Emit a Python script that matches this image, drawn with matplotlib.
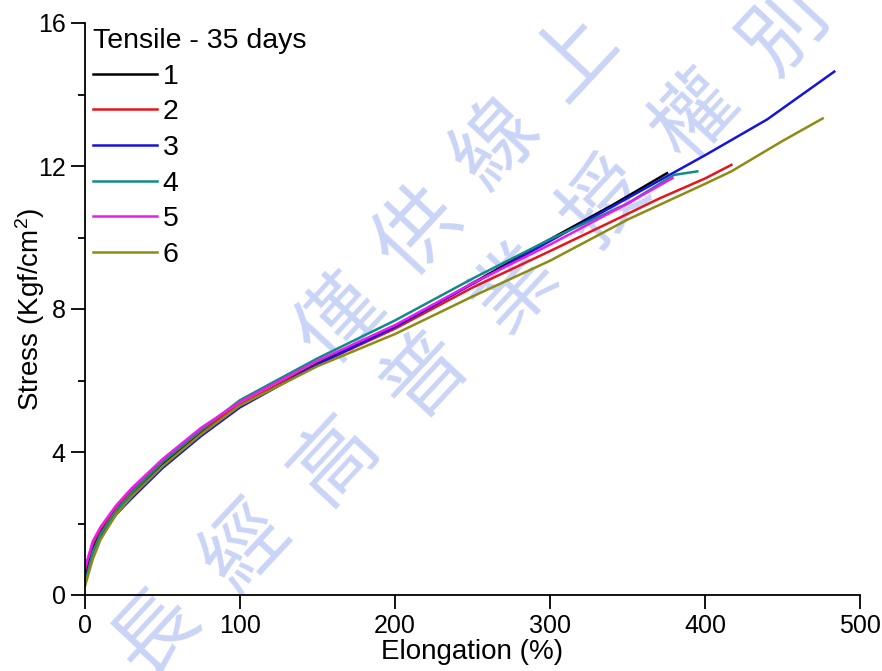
import matplotlib
matplotlib.use("Agg")
import matplotlib.pyplot as plt

# ---- data ----
x1 = [0, 5, 10, 20, 30, 50, 75, 100, 150, 200, 250, 300, 340, 375.5]
y1 = [0.45, 1.3, 1.75, 2.35, 2.82, 3.65, 4.55, 5.3, 6.48, 7.5, 8.72, 9.95, 10.9, 11.8]

x2 = [0, 5, 10, 20, 30, 50, 75, 100, 150, 200, 250, 300, 340, 371, 400, 417]
y2 = [0.7, 1.45, 1.85, 2.42, 2.9, 3.72, 4.6, 5.33, 6.45, 7.45, 8.6, 9.62, 10.45, 11.1, 11.65, 12.03]

x3 = [0, 5, 10, 20, 30, 50, 75, 100, 150, 200, 250, 300, 350, 400, 440, 483.4]
y3 = [0.4, 1.2, 1.65, 2.25, 2.7, 3.55, 4.45, 5.25, 6.45, 7.5, 8.7, 9.9, 11.1, 12.3, 13.3, 14.64]

x4 = [0, 5, 10, 20, 30, 50, 75, 100, 150, 200, 250, 300, 350, 380, 395]
y4 = [0.3, 1.2, 1.7, 2.35, 2.85, 3.72, 4.62, 5.45, 6.62, 7.68, 8.85, 9.95, 10.95, 11.75, 11.85]

x5 = [0, 5, 10, 20, 30, 50, 75, 100, 150, 200, 250, 300, 350, 379]
y5 = [0.75, 1.5, 1.9, 2.5, 2.98, 3.8, 4.68, 5.4, 6.55, 7.55, 8.72, 9.8, 10.95, 11.66]

x6 = [0, 5, 10, 20, 30, 50, 75, 100, 150, 200, 250, 300, 350, 400, 417, 450, 475.9]
y6 = [0.25, 1.0, 1.55, 2.25, 2.75, 3.6, 4.5, 5.3, 6.4, 7.3, 8.35, 9.35, 10.5, 11.5, 11.85, 12.7, 13.33]

labels = ["1", "2", "3", "4", "5", "6"]
colors = ["#000000", "#e8141b", "#1414e0", "#118a8a", "#ee1aee", "#8c8c14"]
xticks = [0, 100, 200, 300, 400, 500]
yticks = [0, 4, 8, 12, 16]

wm_upper = ["僅", "供", "線", "上"]
wm_lower = ["長", "經", "高", "普", "業", "授", "權", "別"]

plt.rcParams["font.family"] = ["Liberation Sans", "DejaVu Sans"]
plt.rcParams["mathtext.default"] = "regular"

W, H = 882, 671
fig = plt.figure(figsize=(W / 100, H / 100), dpi=100)

# watermark (behind the axes)
def wm(chars, x0, y0, dx, dy):
    for i, c in enumerate(chars):
        fig.text((x0 + i * dx) / W, 1 - (y0 + i * dy) / H, c,
                 fontsize=60, color="#cad4f6", rotation=47,
                 ha="center", va="center", family=["Noto Sans CJK TC"],
                 zorder=-5)

wm(wm_upper, 340, 320, 78, -88)
wm(wm_lower, 155, 632, 90, -86)

ax = fig.add_axes([85 / W, 1 - 595 / H, 775 / W, 572 / H])
ax.patch.set_alpha(0)

series = [(x1, y1), (x2, y2), (x3, y3), (x4, y4), (x5, y5), (x6, y6)]
for (xs, ys), lab, col in zip(series, labels, colors):
    ax.plot(xs, ys, color=col, lw=1.8, label=lab)

ax.set_xlim(0, 500)
ax.set_ylim(0, 16)
ax.set_xticks(xticks)
ax.set_yticks(yticks)
ax.set_yticks([2, 6, 10, 14], minor=True)
ax.spines["top"].set_visible(False)
ax.spines["right"].set_visible(False)
for s in ["left", "bottom"]:
    ax.spines[s].set_linewidth(1.3)
ax.tick_params(axis="both", which="major", direction="out", length=10,
               width=1.3, labelsize=18, pad=4)
ax.tick_params(axis="y", which="minor", direction="out", length=5, width=1.3)

ax.set_xlabel("Elongation (%)", fontsize=20)
ax.set_ylabel("Stress (Kgf/cm$^{2}$)", fontsize=20)
ax.xaxis.set_label_coords(0.5, -(639 - 595) / 572)
ax.yaxis.set_label_coords((47 - 85) / 775, 0.5)

leg = ax.legend(title="Tensile - 35 days", loc="upper left",
                bbox_to_anchor=(93 / W, 1 - 28 / H),
                bbox_transform=fig.transFigure, frameon=False,
                fontsize=20.5, title_fontsize=20.5, handlelength=2.25,
                handletextpad=0.2, labelspacing=0.34, borderpad=0,
                borderaxespad=0, alignment="left")

fig.savefig("out.png", dpi=100)
